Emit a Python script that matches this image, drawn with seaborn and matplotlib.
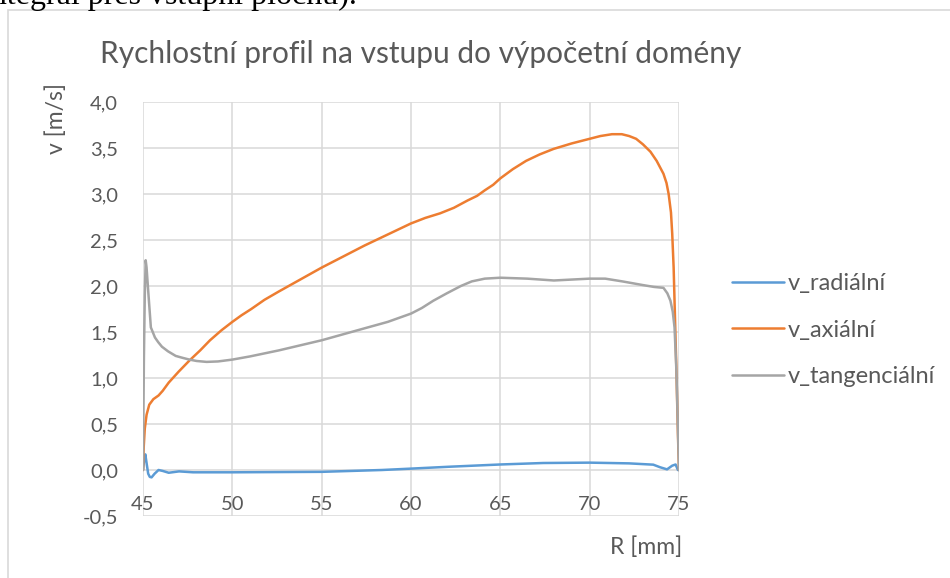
import matplotlib
matplotlib.use("Agg")
import matplotlib.pyplot as plt
from matplotlib.patches import Rectangle
import seaborn as sns
import pandas as pd

# data (R in mm, v in m/s)
r_axial = [45.0, 45.04, 45.1, 45.2, 45.35, 45.58, 45.87, 46.1, 46.44, 47.0, 47.6, 48.2,
           48.75, 49.4, 50.0, 50.5, 51.06, 51.8, 52.6, 53.8, 55.0, 56.2, 57.4, 58.7,
           60.0, 60.8, 61.63, 62.4, 63.17, 63.7, 64.13, 64.6, 65.0, 65.7, 66.44, 67.2,
           67.98, 69.0, 70.0, 70.6, 71.25, 71.8, 72.21, 72.6, 72.98, 73.4, 73.75, 74.13,
           74.3, 74.42, 74.55, 74.62, 74.7, 74.75, 74.85, 74.94, 75.0]
v_axial = [0.0, 0.25, 0.45, 0.6, 0.71, 0.77, 0.81, 0.86, 0.95, 1.07, 1.19, 1.30,
           1.41, 1.52, 1.61, 1.68, 1.75, 1.85, 1.94, 2.07, 2.20, 2.32, 2.44, 2.56,
           2.68, 2.74, 2.79, 2.85, 2.93, 2.98, 3.04, 3.10, 3.17, 3.27, 3.36, 3.43,
           3.49, 3.55, 3.60, 3.63, 3.65, 3.65, 3.63, 3.60, 3.54, 3.46, 3.36, 3.22,
           3.12, 3.0, 2.8, 2.57, 2.2, 1.84, 1.12, 0.39, 0.0]

r_tang = [45.0, 45.05, 45.1, 45.15, 45.2, 45.29, 45.44, 45.67, 45.85, 46.06, 46.4, 46.83,
          47.2, 47.6, 48.0, 48.56, 49.2, 50.0, 51.0, 52.6, 55.0, 57.4, 58.7, 60.0,
          60.6, 61.25, 62.0, 62.79, 63.4, 64.13, 65.0, 66.5, 68.0, 69.0, 70.0, 70.87,
          71.83, 72.98, 73.6, 74.13, 74.35, 74.52, 74.65, 74.75, 74.85, 74.9, 75.0]
v_tang = [0.0, 1.2, 1.9, 2.28, 2.2, 1.95, 1.55, 1.44, 1.39, 1.34, 1.29, 1.24,
          1.22, 1.20, 1.185, 1.175, 1.18, 1.20, 1.235, 1.30, 1.41, 1.54, 1.61, 1.70,
          1.76, 1.84, 1.92, 2.0, 2.05, 2.08, 2.09, 2.08, 2.06, 2.07, 2.08, 2.08,
          2.05, 2.01, 1.99, 1.98, 1.92, 1.84, 1.72, 1.55, 1.1, 0.75, 0.0]

r_rad = [45.0, 45.07, 45.13, 45.22, 45.29, 45.38, 45.48, 45.65, 45.87, 46.1, 46.44, 47.02,
         47.8, 50.0, 55.0, 58.37, 60.0, 62.2, 65.0, 67.4, 70.0, 72.21, 73.56, 73.94,
         74.33, 74.62, 74.81, 74.94, 75.0]
v_rad = [0.0, 0.12, 0.17, 0.05, -0.04, -0.075, -0.08, -0.04, 0.0, -0.01, -0.03, -0.015,
         -0.025, -0.025, -0.02, 0.0, 0.015, 0.036, 0.06, 0.076, 0.08, 0.072, 0.058, 0.03,
         0.007, 0.047, 0.06, 0.0, 0.0]

series_names = ["v_radiální", "v_axiální", "v_tangenciální"]
series_colors = ["#5B9BD5", "#ED7D31", "#A5A5A5"]

x_ticks = [45, 50, 55, 60, 65, 70, 75]
y_ticks = [-0.5, 0.0, 0.5, 1.0, 1.5, 2.0, 2.5, 3.0, 3.5, 4.0]
y_tick_labels = ["-0,5", "0,0", "0,5", "1,0", "1,5", "2,0", "2,5", "3,0", "3,5", "4,0"]

df = pd.concat([
    pd.DataFrame({"R": r_rad, "v": v_rad, "serie": series_names[0]}),
    pd.DataFrame({"R": r_axial, "v": v_axial, "serie": series_names[1]}),
    pd.DataFrame({"R": r_tang, "v": v_tang, "serie": series_names[2]}),
], ignore_index=True)

sns.set_theme(style="white")
plt.rcParams["font.family"] = ["Lato", "DejaVu Sans"]
text_color = "#595959"
grid_color = "#D9D9D9"

fig = plt.figure(figsize=(9.5, 5.78), dpi=100)
ax = fig.add_axes([143 / 950, 1 - 516 / 578, 536 / 950, 414 / 578])

sns.lineplot(data=df, x="R", y="v", hue="serie", palette=series_colors,
             hue_order=series_names, estimator=None, sort=False,
             linewidth=1.8, ax=ax)

ax.set_xlim(45, 75)
ax.set_ylim(-0.5, 4.0)
ax.set_xticks(x_ticks)
ax.set_yticks(y_ticks)
ax.set_yticklabels(y_tick_labels)
ax.grid(True, color=grid_color, linewidth=1.1)
ax.set_axisbelow(True)
for s in ax.spines.values():
    s.set_visible(False)
ax.spines["bottom"].set_position(("data", 0))
ax.tick_params(axis="x", length=0, pad=19, labelsize=14.5, labelcolor=text_color)
ax.tick_params(axis="y", length=0, pad=18, labelsize=14.5, labelcolor=text_color)

ax.set_xlabel("R [mm]", fontsize=16.5, color=text_color)
ax.set_ylabel("v [m/s]", fontsize=16.5, color=text_color)
ax.xaxis.set_label_coords((646 - 143) / 536, (516 - 536) / 414)
ax.yaxis.set_label_coords((67 - 143) / 536, (516 - 118) / 414)

leg = ax.legend(loc="center left", bbox_to_anchor=(732 / 950, 1 - 330 / 578),
                bbox_transform=fig.transFigure, frameon=False, fontsize=17,
                handlelength=2.2, handletextpad=0.15, labelspacing=1.08,
                borderpad=0, borderaxespad=0)
for t in leg.get_texts():
    t.set_color(text_color)
for h in leg.get_lines():
    h.set_linewidth(1.8)

fig.text(421 / 950, 1 - 54 / 578, "Rychlostní profil na vstupu do výpočetní domény",
         ha="center", va="center", fontsize=21.5, color=text_color)

# document text cut off above the chart frame and the frame itself
fig.text(357 / 950, 1 - 4 / 578, "integrál přes vstupní plochu).", ha="right",
         va="baseline", fontsize=23, color="black", family="Liberation Serif")
fig.patches.append(Rectangle((8 / 950, -0.1), 1.2, 1.1 - 10 / 578, transform=fig.transFigure,
                             fill=False, edgecolor=grid_color, linewidth=1.2))

fig.savefig("out.png", dpi=100)
